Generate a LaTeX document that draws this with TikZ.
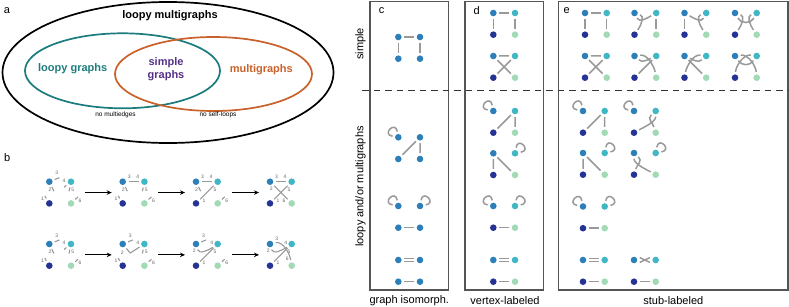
\documentclass[tikz,border=0pt]{standalone}
\usepackage{fontspec}
\setmainfont{Liberation Sans}
\usepackage{xcolor}
\usepackage{tikz}
\usetikzlibrary{arrows.meta,positioning,shapes.geometric,fit}
\definecolor{navy}{HTML}{253494}
\definecolor{azure}{HTML}{2C7FB8}
\definecolor{aqua}{HTML}{41B6C4}
\definecolor{mint}{HTML}{A1DAB4}
\definecolor{tealring}{HTML}{1C7C7D}
\definecolor{rust}{HTML}{C9612B}
\definecolor{plum}{HTML}{553088}
\definecolor{edgegray}{HTML}{999999}
\definecolor{boxgray}{HTML}{555555}

\begin{document}
\begin{tikzpicture}[
  x=1pt,y=-1pt,
  font=\fontsize{11}{13}\selectfont,
  vtx/.style={circle,inner sep=0pt,minimum size=6.6pt,outer sep=2.5pt},
  edg/.style={draw=edgegray,line width=1.5pt},
  stub/.style={draw=edgegray,line width=1.1pt},
  num/.style={font=\fontsize{5}{5}\selectfont,text=black!60,inner sep=0.3pt},
  ring/.style={ellipse,draw,line width=1.7pt,inner sep=0pt},
  venn/.style={font=\fontsize{11}{13}\selectfont\bfseries},
  tag/.style={font=\fontsize{6.5}{8}\selectfont},
  panel/.style={draw=boxgray,line width=1.2pt},
  sep/.style={draw=black!80,line width=0.9pt,dash pattern=on 6.5pt off 5pt},
  arr/.style={-{Stealth[length=5pt,width=4.5pt]},line width=0.9pt,shorten <=2pt,shorten >=-1pt}
]
\useasboundingbox (0,0) rectangle (789,307);

% a
\node (la) at (7,11) {a};
\node[ring,minimum width=331pt,minimum height=141pt] (outer) at (168,72.5) {};
\node[ring,draw=tealring,minimum width=195pt,minimum height=75pt] (loopy) at (122.5,70.8) {};
\node[ring,draw=rust,minimum width=197pt,minimum height=74pt] (multi) at (213.5,74) {};
\node[venn] (tlm) at (170,16) {loopy multigraphs};
\node[venn,text=tealring] (tlg) at (72.7,68.3) {loopy graphs};
\node[venn,text=rust] (tmg) at (261.3,70) {multigraphs};
\node[venn,text=plum,align=center] (tsg) at (166,69.5) {simple\\graphs};
\node[tag] (tnm) at (115.5,115) {no multiedges};
\node[tag] (tns) at (218,115) {no self-loops};

% b
\node (lb) at (7.3,157.3) {b};

\foreach \g/\x/\y in {bA/49.3/181.7,bB/122.7/181.7,bC/196/181.7,bD/270/181.7,
    bE/49.3/244,bF/122.7/244,bG/196/244,bH/270/244,
    dA/493.3/13,dB/493.3/56,dC/493.3/111,dD/493.3/153.3,dE/493.3/206,dF/493.3/260,
    eA/585/13,eB/634.5/13,eC/684.5/13,eD/735/13,
    eE/585/56,eF/634.5/56,eG/684.5/56,eH/735/56,
    eI/583/111,eJ/634/111,eK/583/153,eL/634/153,eM/583/206.5,eN/583/260,eO/634/260}{
  \node[vtx,fill=azure] (\g1) at (\x,\y) {};
  \node[vtx,fill=aqua] (\g2) at (\x+21.7,\y) {};
  \node[vtx,fill=navy] (\g3) at (\x,\y+21.7) {};
  \node[vtx,fill=mint] (\g4) at (\x+21.7,\y+21.7) {};
}
\foreach \g/\x/\y in {cA/398.3/37,cB/398.3/137.3,cC/398.3/206,cD/398.3/260}{
  \node[vtx,fill=azure] (\g1) at (\x,\y) {};
  \node[vtx,fill=azure] (\g2) at (\x+21.7,\y) {};
  \node[vtx,fill=azure] (\g3) at (\x,\y+21.7) {};
  \node[vtx,fill=azure] (\g4) at (\x+21.7,\y+21.7) {};
}

\foreach \g in {bA,bE,bF,bG}
  \draw[stub] (\g1) -- +(10,-4) node[num,shift={(-2.5,-4.5)}] {3};
\foreach \g in {bA,bB,bC,bE}
  \draw[stub] (\g1) -- +(4.6,9.5) node[num,shift={(-4,-1.5)}] {2};
\foreach \g in {bA,bE}
  \draw[stub] (\g2) -- +(-7,5.5) node[num,shift={(0,-6.5)}] {4};
\foreach \g in {bA,bB,bE,bF}{
  \draw[stub] (\g2) -- +(-2,9.5) node[num,shift={(3.8,-1.2)}] {5};
  \draw[stub] (\g3) -- +(-4.5,-7.5) node[num,shift={(-2.3,2.5)}] {1};
}
\foreach \g in {bA,bB,bC,bE,bF,bG}
  \draw[stub] (\g4) -- +(7,-6.5) node[num,shift={(2,3.8)}] {6};

\foreach \g in {bB,bC,bD}
  \draw[stub] (\g1) -- node[num,pos=0.08,above=2pt] {3} node[num,pos=0.92,above=2pt] {4} (\g2);
\foreach \g in {bC,bD,bG,bH}
  \draw[stub] (\g3) -- node[num,pos=0.1,below right=0.3pt] {1} node[num,pos=0.92,below right=0.3pt] {5} (\g2);
\draw[stub] (bD1) -- node[num,pos=0,below left=1pt] {2} node[num,pos=0.92,below left=0.3pt] {6} (bD4);
\draw[stub] (bF1) -- +(7.5,9) node[num,shift={(-8,-0.5)}] {2} -- node[num,pos=0.8,above=2.5pt] {4} (bF2);
\foreach \g in {bG,bH}
  \draw[stub] (\g1) .. controls +(3,11) and +(-9,6) .. node[num,pos=0.08,left=1.5pt] {2} node[num,pos=0.92,above=2.5pt] {4} (\g2);
\draw[stub] (bH1) .. controls +(13,-3) and +(-2,-12) .. node[num,pos=0.05,above=1.5pt] {3} node[num,pos=0.93,left=1pt] {6} (bH4);

\foreach \g in {bA,bB,bC,bD,bE,bF,bG,bH}
  \node[fit=(\g1)(\g4),inner sep=6pt] (\g) {};
\foreach \p/\q in {bA/bB,bB/bC,bC/bD,bE/bF,bF/bG,bG/bH}
  \draw[arr] (\p) -- (\q);

% c, d, e
\draw[panel] (370,1.5) rectangle (448.3,290);
\draw[panel] (465,1.5) rectangle (543.3,290);
\draw[panel] (558.3,1.5) rectangle (788,290);
\draw[sep] (362,90) -- (789,90);
\node (lc) at (381.7,10.7) {c};
\node (ld) at (476.7,10.7) {d};
\node (le) at (566.7,10.7) {e};
\node[rotate=90] (rsim) at (360.5,44) {simple};
\node[rotate=90] (rlm) at (360.5,186.5) {loopy and/or multigraphs};
\node (xc) at (409.3,300.5) {graph isomorph.};
\node (xd) at (505,300.5) {vertex-labeled};
\node (xe) at (673.3,300.5) {stub-labeled};

\foreach \g in {cA,dA,eA}
  \draw[edg] (\g1) -- (\g2) (\g1) -- (\g3) (\g2) -- (\g4);
\foreach \g in {dB,eE}
  \draw[edg] (\g1) -- (\g2) (\g1) -- (\g4) (\g2) -- (\g3);
\foreach \g in {cB,dC,eI}
  \draw[edg] (\g3) -- (\g2) (\g2) -- (\g4);
\foreach \g in {dD,eK}
  \draw[edg] (\g1) -- (\g3) (\g1) -- (\g4);
\foreach \g in {cB,cC,dC,dE,eI,eJ,eM}
  \draw[edg] (\g1) .. controls +(-17,-3) and +(-3,-17) .. (\g1);
\foreach \g in {cC,dD,dE,eK,eL,eM}
  \draw[edg] (\g2) .. controls +(3,-17) and +(17,-3) .. (\g2);
\foreach \g in {cC,cD,dE,dF,eM,eN,eO}
  \draw[edg] (\g3) -- (\g4);
\foreach \g in {cD,dF,eN}
  \draw[edg] ([yshift=1.6pt]\g1.east) -- ([yshift=1.6pt]\g2.west)
             ([yshift=-1.6pt]\g1.east) -- ([yshift=-1.6pt]\g2.west);
\draw[edg] ([yshift=2.4pt]eO1.east) -- ([yshift=-2.4pt]eO2.west)
           ([yshift=-2.4pt]eO1.east) -- ([yshift=2.4pt]eO2.west);

\draw[edg] (eB1) .. controls +(5,10) and +(-9,5) .. (eB2);
\draw[edg] (eB3) .. controls +(7,-10) and +(10,3) .. (eB1);
\draw[edg] (eB2) -- (eB4);
\draw[edg] (eC2) .. controls +(-5,10) and +(9,5) .. (eC1);
\draw[edg] (eC4) .. controls +(-7,-10) and +(-10,3) .. (eC2);
\draw[edg] (eC1) -- (eC3);
\draw[edg] (eD1) .. controls +(6,11) and +(-6,11) .. (eD2);
\draw[edg] (eD3) .. controls +(7,-10) and +(10,3) .. (eD1);
\draw[edg] (eD4) .. controls +(-7,-10) and +(-10,3) .. (eD2);

\draw[edg] (eF1) .. controls +(8,7) and +(-9,4) .. (eF2);
\draw[edg] (eF1) .. controls +(13,-2) and +(-2,-11) .. (eF4);
\draw[edg] (eF2) -- (eF3);
\draw[edg] (eG2) .. controls +(-8,7) and +(9,4) .. (eG1);
\draw[edg] (eG2) .. controls +(-13,-2) and +(2,-11) .. (eG3);
\draw[edg] (eG1) -- (eG4);
\draw[edg] (eH1) .. controls +(7,10) and +(-7,10) .. (eH2);
\draw[edg] (eH1) .. controls +(13,-2) and +(-1,-12) .. (eH4);
\draw[edg] (eH2) .. controls +(-13,-2) and +(1,-12) .. (eH3);

\draw[edg] (eJ2) .. controls +(0,11) and +(9,-5) .. (eJ3);
\draw[edg] (eJ2) .. controls +(-9,8) and +(-3,-10) .. (eJ4);
\draw[edg] (eL1) .. controls +(0,11) and +(-9,-5) .. (eL4);
\draw[edg] (eL1) .. controls +(9,8) and +(3,-10) .. (eL3);
\end{tikzpicture}
\end{document}
